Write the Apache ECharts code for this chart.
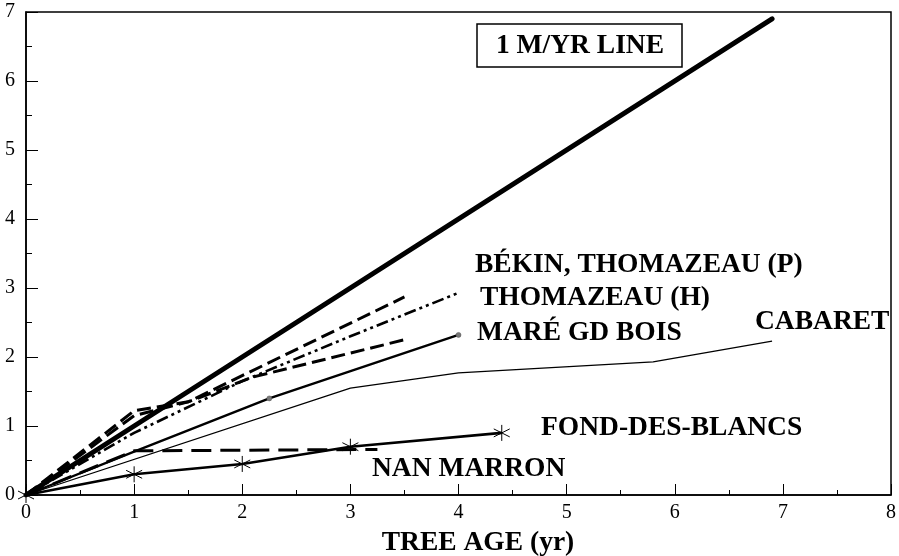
<!DOCTYPE html>
<html>
<head>
<meta charset="utf-8">
<script src="https://cdn.jsdelivr.net/npm/echarts@6/dist/echarts.min.js"></script>
<style>
html,body{margin:0;padding:0;background:#fff;}
#chart{width:899px;height:556px;}
</style>
</head>
<body>
<div id="chart"></div>
<script>
// ---- data (x = tree age in years, y = height in metres) ----
const oneMeterLine   = [[0,0],[6.9,6.9]];
const bekin          = [[0,0],[1,1.22],[1.5,1.35],[3.5,2.87]];
const thomazeauP     = [[0,0],[1,1.15],[1.5,1.35],[2.1,1.71],[3.5,2.25]];
const thomazeauH     = [[0,0],[1,0.9],[1.4,1.2],[2,1.65],[3,2.3],[4,2.93]];
const mareGdBois     = [[0,0],[1,0.63],[2.25,1.4],[4,2.32]];
const cabaret        = [[0,0],[3,1.55],[4,1.77],[5.8,1.93],[6.9,2.23]];
const fondDesBlancs  = [[0,0],[1,0.3],[2,0.45],[3,0.7],[4.4,0.9]];
const nanMarron      = [[0,0],[1,0.64],[3.25,0.66]];

const xTickValues = [0,1,2,3,4,5,6,7,8];
const yTickValues = [0,1,2,3,4,5,6,7];
const xAxisTitle = 'TREE AGE (yr)';
const boxLabel = '1 M/YR LINE';

const SERIF = '"Liberation Serif","Times New Roman",serif';
const chart = echarts.init(document.getElementById('chart'), null, {renderer:'canvas'});

const asterisk = 'path://M0,-7L0,7M-6.06,-3.5L6.06,3.5M-6.06,3.5L6.06,-3.5';

function lineSeries(name, data, style, extra){
  return Object.assign({
    name: name, type: 'line', data: data, symbol: 'none', silent: true,
    lineStyle: Object.assign({color:'#000'}, style), animation: false
  }, extra || {});
}

function label(text, x, y, align){
  return {type:'text', x:x, y:y, silent:true, z:100,
    style:{text:text, fill:'#000', font:'bold 27.5px ' + SERIF,
      textAlign: align || 'left', textVerticalAlign:'middle'}};
}

const option = {
  backgroundColor: '#fff',
  animation: false,
  grid: {left:26, right:8, top:12, bottom:61, show:true, borderColor:'#000', borderWidth:1.5},
  xAxis: {
    type:'value', min:0, max:8, interval:1,
    axisLine:{lineStyle:{color:'#000', width:1.5}},
    axisTick:{inside:true, length:11, lineStyle:{color:'#000', width:1}},
    minorTick:{show:true, splitNumber:2, length:5, lineStyle:{color:'#000', width:1}},
    splitLine:{show:false},
    axisLabel:{color:'#000', fontFamily:SERIF, fontSize:20, margin:8,
      formatter: v => xTickValues.includes(v) ? String(v) : ''}
  },
  yAxis: {
    type:'value', min:0, max:7, interval:1,
    axisLine:{lineStyle:{color:'#000', width:1.5}},
    axisTick:{inside:true, length:12, lineStyle:{color:'#000', width:1}},
    minorTick:{show:true, splitNumber:2, length:6, lineStyle:{color:'#000', width:1}},
    splitLine:{show:false},
    axisLabel:{color:'#000', fontFamily:SERIF, fontSize:20, margin:11,
      formatter: v => yTickValues.includes(v) ? String(v) : ''}
  },
  series: [
    lineSeries('CABARET', cabaret, {width:1.3}),
    lineSeries('NAN MARRON', nanMarron, {width:3, type:[20,9]}),
    lineSeries('FOND-DES-BLANCS', fondDesBlancs, {width:2.6},
      {symbol: asterisk, symbolSize:16, showSymbol:true,
       itemStyle:{color:'none', borderColor:'#000', borderWidth:1}}),
    lineSeries('MARÉ GD BOIS', mareGdBois, {width:2.4},
      {symbol:'circle', showSymbol:true,
       symbolSize: (v, p) => p.dataIndex >= 2 ? 5 : 0,
       itemStyle:{color:'#777', borderColor:'#555', borderWidth:0.5}}),
    lineSeries('THOMAZEAU (H)', thomazeauH, {width:2.6, type:[12,4,3,4,3,4]}),
    lineSeries('THOMAZEAU (P)', thomazeauP, {width:3, type:[14,6]}),
    lineSeries('BÉKIN', bekin, {width:3, type:[14,6]}),
    lineSeries('1 M/YR LINE', oneMeterLine, {width:5, cap:'round'})
  ],
  graphic: [
    {type:'rect', shape:{x:477, y:24, width:205, height:43}, silent:true,
     style:{fill:'none', stroke:'#000', lineWidth:1.5}},
    label(boxLabel, 580, 46, 'center'),
    label('BÉKIN, THOMAZEAU (P)', 475, 265),
    label('THOMAZEAU (H)', 480, 298),
    label('MARÉ GD BOIS', 477, 333),
    label('CABARET', 755, 322),
    label('FOND-DES-BLANCS', 541, 428),
    label('NAN MARRON', 372, 469),
    label(xAxisTitle, 478, 543, 'center')
  ]
};
chart.setOption(option);
</script>
</body>
</html>
